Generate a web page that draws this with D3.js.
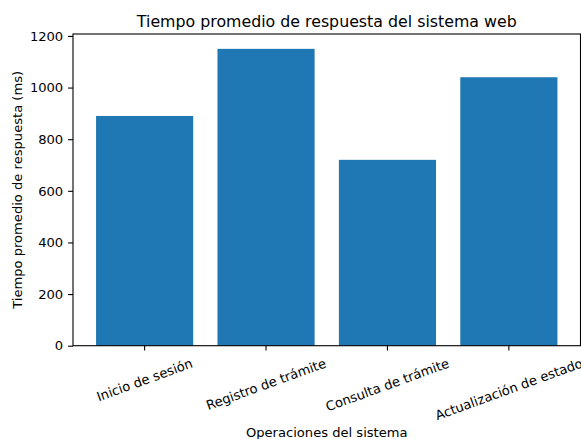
<!DOCTYPE html>
<html>
<head>
<meta charset="utf-8">
<script src="https://cdn.jsdelivr.net/npm/d3@7"></script>
<style>
  html, body { margin: 0; padding: 0; background: #fff; }
  svg { display: block; }
  text { font-family: "DejaVu Sans", sans-serif; fill: #000; }
</style>
</head>
<body>
<svg id="chart" width="581" height="439"></svg>
<script>
const categories = ["Inicio de sesión", "Registro de trámite", "Consulta de trámite", "Actualización de estado"];
const values = [890, 1150, 720, 1040];
const yTicks = [0, 200, 400, 600, 800, 1000, 1200];
const title = "Tiempo promedio de respuesta del sistema web";
const xLabel = "Operaciones del sistema";
const yLabel = "Tiempo promedio de respuesta (ms)";

(function () {
const svg = d3.select("#chart");
const pL = 73, pR = 580.5, pT = 34, pB = 345.7;
const fs = 13.1;

const x = d3.scaleLinear().domain([-0.59, categories.length - 1 + 0.59]).range([pL, pR]);
const y = d3.scaleLinear().domain([0, 1207.5]).range([pB, pT]);
const barW = 0.8;

svg.selectAll("rect.bar").data(values).enter().append("rect")
  .attr("class", "bar")
  .attr("x", (d, i) => x(i - barW / 2))
  .attr("width", (d, i) => x(i + barW / 2) - x(i - barW / 2))
  .attr("y", d => y(d))
  .attr("height", d => y(0) - y(d))
  .attr("fill", "#1f77b4");

// y axis
const yAxis = d3.axisLeft(y).tickValues(yTicks).tickSize(4.9).tickPadding(4.9).tickFormat(d3.format("d"));
const gy = svg.append("g").attr("transform", `translate(${pL},0)`).call(yAxis);
gy.select(".domain").remove();
gy.selectAll(".tick line").attr("stroke", "#000").attr("stroke-width", 1.1);
gy.selectAll(".tick text").style("font-size", fs + "px").style("font-family", "DejaVu Sans").attr("fill", "#000");

// x axis ticks
const gx = svg.append("g");
categories.forEach((c, i) => {
  gx.append("line").attr("x1", x(i)).attr("x2", x(i)).attr("y1", pB).attr("y2", pB + 4.9)
    .attr("stroke", "#000").attr("stroke-width", 1.1);
  const t = gx.append("text").text(c).style("font-size", fs + "px")
    .attr("text-anchor", "middle").attr("dominant-baseline", "central");
  const w = t.node().getComputedTextLength();
  const h = fs * 1.17;
  const a = 20 * Math.PI / 180;
  const bh = w * Math.sin(a) + h * Math.cos(a);
  const cy = pB + 9.8 + bh / 2;
  t.attr("transform", `translate(${x(i)},${cy}) rotate(-20)`);
});

// frame
svg.append("rect").attr("x", pL).attr("y", pT).attr("width", pR - pL).attr("height", pB - pT)
  .attr("fill", "none").attr("stroke", "#000").attr("stroke-width", 1.1);

// title
svg.append("text").attr("x", (pL + pR) / 2).attr("y", 27).attr("text-anchor", "middle")
  .style("font-size", "15.8px").text(title);

// x label
svg.append("text").attr("x", (pL + pR) / 2).attr("y", 437).attr("text-anchor", "middle")
  .style("font-size", fs + "px").text(xLabel);

// y label
svg.append("text").attr("transform", `translate(22,${(pT + pB) / 2}) rotate(-90)`)
  .attr("text-anchor", "middle").style("font-size", fs + "px").text(yLabel);
})();
</script>
</body>
</html>
